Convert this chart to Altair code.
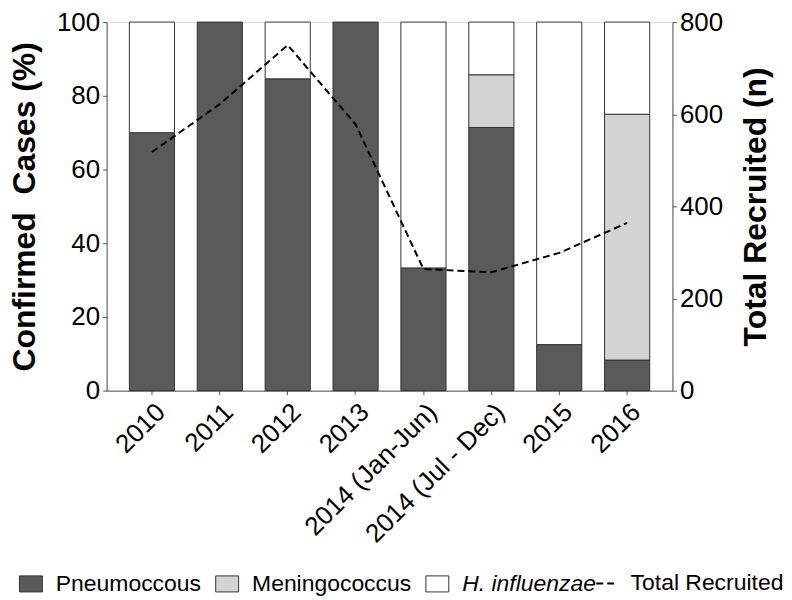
import altair as alt
import pandas as pd

categories = ["2010", "2011", "2012", "2013", "2014 (Jan-Jun)", "2014 (Jul - Dec)", "2015", "2016"]
species = ["Pneumoccous", "Meningococcus", "H. influenzae"]
pneumo = [70.0, 100.0, 84.6, 100.0, 33.3, 71.4, 12.5, 8.3]
mening = [0.0, 0.0, 0.0, 0.0, 0.0, 14.3, 0.0, 66.7]
hinf = [30.0, 0.0, 15.4, 0.0, 66.7, 14.3, 87.5, 25.0]
total = [518, 622, 750, 578, 264, 257, 299, 364]
colors = ["#5a5a5a", "#d3d3d3", "#ffffff"]

rows = []
for i, c in enumerate(categories):
    for j, (s, vals) in enumerate(zip(species, [pneumo, mening, hinf])):
        if vals[i] > 0:
            rows.append({"period": c, "species": s, "pct": vals[i], "rank": j})
bars_df = pd.DataFrame(rows)
line_df = pd.DataFrame({"period": categories, "total": total, "series": ["Total Recruited"] * len(categories)})

FONT = "Liberation Sans"

xenc = alt.X(
    "period:N",
    sort=categories,
    scale=alt.Scale(paddingInner=0.335, paddingOuter=0.335),
    axis=alt.Axis(title=None, labelAngle=-45, labelFontSize=26, labelPadding=4, tickSize=4, labelLimit=400,
                  labelColor="black", domainColor="#555", tickColor="#555", labelFont=FONT),
)

bars = alt.Chart(bars_df).mark_bar(stroke="#333", strokeWidth=1).encode(
    x=xenc,
    y=alt.Y(
        "pct:Q",
        stack="zero",
        scale=alt.Scale(domain=[0, 100]),
        axis=alt.Axis(title="Confirmed\u00a0\u00a0Cases (%)", values=[0, 20, 40, 60, 80, 100], labelFontSize=26,
                      titleFontSize=32, titleFontWeight="bold", titlePadding=15, tickSize=4, labelPadding=3,
                      grid=False, domainColor="#555", tickColor="#555", labelColor="black", titleColor="black",
                      labelFont=FONT, titleFont=FONT),
    ),
    fill=alt.Fill(
        "species:N",
        scale=alt.Scale(domain=species, range=colors),
        legend=alt.Legend(
            title=None, orient="none", legendX=-88, legendY=552, direction="horizontal", columns=3,
            labelFontSize=23, labelFont=FONT, labelColor="black", labelOffset=13, columnPadding=12,
            symbolType="M-1,-0.7H1V0.7H-1Z", symbolSize=529, symbolStrokeColor="#333", symbolStrokeWidth=1,
            symbolOpacity=1, labelLimit=300,
            labelFontStyle=alt.ExprRef(expr="datum.label === 'H. influenzae' ? 'italic' : 'normal'"),
        ),
    ),
    order=alt.Order("rank:Q"),
)

line = alt.Chart(line_df).mark_line(color="black", strokeWidth=2).encode(
    x=alt.X("period:N", sort=categories),
    y=alt.Y(
        "total:Q",
        scale=alt.Scale(domain=[0, 800]),
        axis=alt.Axis(orient="right", title="Total Recruited (n)", values=[0, 200, 400, 600, 800],
                      labelFontSize=26, titleFontSize=32, titleFontWeight="bold", titleAngle=270,
                      titlePadding=50, tickSize=4, labelPadding=3, grid=False, domainColor="#555",
                      tickColor="#555", labelColor="black", titleColor="black", labelFont=FONT, titleFont=FONT),
    ),
    strokeDash=alt.StrokeDash(
        "series:N",
        scale=alt.Scale(domain=["Total Recruited"], range=[[7, 4]]),
        legend=alt.Legend(
            title=None, orient="none", legendX=490, legendY=552, symbolType="stroke", symbolSize=400,
            symbolStrokeColor="black", symbolStrokeWidth=2, labelFontSize=23, labelFont=FONT,
            labelColor="black", labelOffset=13, labelLimit=300,
        ),
    ),
)

chart = (
    alt.layer(bars, line)
    .resolve_scale(y="independent", fill="independent", strokeDash="independent")
    .properties(width=568, height=370, padding=0)
    .configure_view(stroke=None)
    .configure(font=FONT)
)

chart.save("out.html", embed_options={"renderer": "svg", "actions": False})
